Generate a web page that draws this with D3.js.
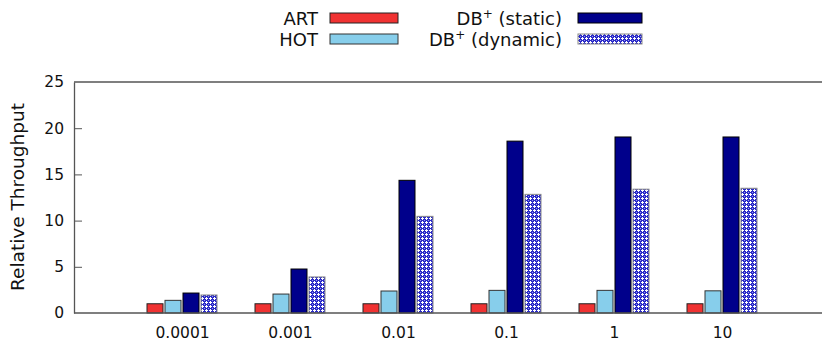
<!DOCTYPE html>
<html><head><meta charset="utf-8">
<script src="https://cdn.jsdelivr.net/npm/d3@7"></script>
<style>body{margin:0;background:#fff}svg{display:block}text{font-family:"DejaVu Sans",sans-serif;fill:#111}</style>
</head><body><svg id="c" width="822" height="341"></svg>
<script>
const categories = ["0.0001","0.001","0.01","0.1","1","10"];
const seriesNames = ["ART","HOT","DB+ (static)","DB+ (dynamic)"];
const art = [1,1,1,1,1,1];
const hot = [1.37,2.05,2.38,2.45,2.45,2.4];
const dbStatic = [2.16,4.76,14.36,18.6,19.05,19.05];
const dbDynamic = [1.95,3.9,10.46,12.84,13.4,13.5];
const yTicks = [0,5,10,15,20,25];

const svg = d3.select("#c");
const defs = svg.append("defs");
const pat = defs.append("pattern").attr("id","hatch").attr("patternUnits","userSpaceOnUse").attr("width",4).attr("height",4);
pat.append("rect").attr("width",4).attr("height",4).attr("fill","#2a2ac8");
[[2,1],[1,2],[2,2],[3,2],[2,3]].forEach(([px,py])=>pat.append("rect").attr("x",px).attr("y",py).attr("width",1).attr("height",1).attr("fill","#ffffff"));
pat.append("rect").attr("x",0).attr("y",0).attr("width",1).attr("height",1).attr("fill","#9a9ae8");

const x = d3.scaleLinear().domain([0,7]).range([74,830]);
const y = d3.scaleLinear().domain([0,25]).range([313,82]);
const unit = x(1)-x(0);
const bw = 16/unit, step = 18/unit;

const series = [
  {name:"ART", vals:art, fill:"#f03232", stroke:"#222"},
  {name:"HOT", vals:hot, fill:"#87ceeb", stroke:"#333"},
  {name:"DB+ (static)", vals:dbStatic, fill:"#00008b", stroke:"#000"},
  {name:"DB+ (dynamic)", vals:dbDynamic, fill:"url(#hatch)", stroke:"#888"}
];

const g = svg.append("g");
series.forEach((s,si)=>{
  g.selectAll(null).data(s.vals).enter().append("rect")
    .attr("x",(d,i)=>x(i+1+(si-2)*step+ (step-bw)/2))
    .attr("width",x(bw)-x(0))
    .attr("y",d=>y(d))
    .attr("height",d=>y(0)-y(d))
    .attr("fill",s.fill).attr("stroke",s.stroke).attr("stroke-width",1);
});

// frame
svg.append("line").attr("x1",74).attr("x2",822).attr("y1",y(25)).attr("y2",y(25)).attr("stroke","#555").attr("stroke-width",1.3);
svg.append("line").attr("x1",74).attr("x2",822).attr("y1",y(0)).attr("y2",y(0)).attr("stroke","#555").attr("stroke-width",1.5);
const ya = d3.axisLeft(y).tickValues(yTicks).tickSize(0).tickPadding(10);
const yg = svg.append("g").attr("transform","translate(74,0)").call(ya);
yg.select(".domain").attr("stroke","#555").attr("stroke-width",1.3);
yg.selectAll("text").attr("font-size",15.5).attr("font-family","DejaVu Sans").attr("fill","#111");
yg.selectAll(".tick").filter(d=>d>0&&d<25).append("line").attr("x1",0).attr("x2",8).attr("stroke","#555");

const xa = d3.axisBottom(x).tickValues(d3.range(1,7)).tickFormat((d)=>categories[d-1]).tickSize(0).tickPadding(14);
const xg = svg.append("g").attr("transform",`translate(0,${y(0)})`).call(xa);
xg.select(".domain").remove();
xg.selectAll("text").attr("font-size",15.5).attr("font-family","DejaVu Sans").attr("fill","#111");

svg.append("text").attr("transform","translate(24,197) rotate(-90)").attr("text-anchor","middle").attr("font-size",18.5).text("Relative Throughput");

// legend
const leg = [
  {s:series[0], tx:318, ty:25, sx:330, sy:13},
  {s:series[1], tx:318, ty:46, sx:330, sy:34},
  {s:series[2], tx:562, ty:25, sx:578, sy:13},
  {s:series[3], tx:562, ty:46, sx:578, sy:34}
];
leg.forEach(l=>{
  const t = svg.append("text").attr("x",l.tx).attr("y",l.ty).attr("text-anchor","end").attr("font-size",18);
  if(l.s.name.startsWith("DB+")){
    t.append("tspan").text("DB");
    t.append("tspan").attr("dy",-7).attr("font-size",12).text("+");
    t.append("tspan").attr("dy",7).text(l.s.name.slice(3));
  } else t.text(l.s.name);
  svg.append("rect").attr("x",l.sx).attr("y",l.sy).attr("width",l.s===series[0]||l.s===series[1]?68:64).attr("height",10)
    .attr("fill",l.s.fill).attr("stroke",l.s.stroke);
});
</script></body></html>
